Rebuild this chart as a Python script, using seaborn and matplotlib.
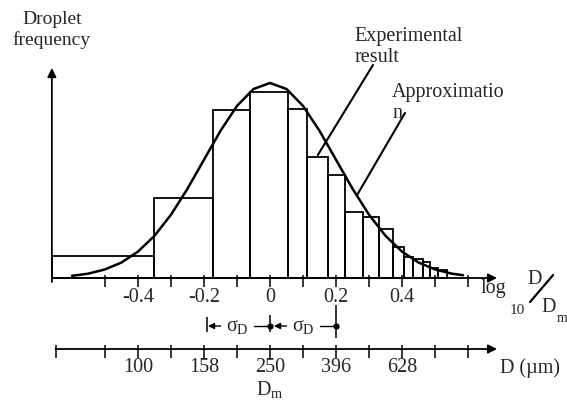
import numpy as np
import pandas as pd
import matplotlib
matplotlib.use("Agg")
import matplotlib.pyplot as plt
import seaborn as sns

# ---------------- data ----------------
# histogram bin edges in log10(D/Dm) and bar heights (frequency, arbitrary units)
bin_edges = [-0.661, -0.352, -0.173, -0.061, 0.055, 0.112, 0.176, 0.227,
             0.282, 0.330, 0.373, 0.406, 0.433, 0.464, 0.485, 0.509, 0.536]
bar_heights = [0.22, 0.80, 1.68, 1.86, 1.69, 1.21, 1.03, 0.66,
               0.61, 0.49, 0.31, 0.21, 0.19, 0.16, 0.10, 0.08]

# approximation curve
curve_x = [-0.60, -0.55, -0.50, -0.45, -0.40, -0.35, -0.30, -0.25, -0.20,
           -0.15, -0.10, -0.05, 0.00, 0.05, 0.10, 0.15, 0.20, 0.25, 0.30,
           0.35, 0.40, 0.45, 0.50, 0.55, 0.585]
curve_y = [0.022, 0.044, 0.086, 0.155, 0.264, 0.422, 0.633, 0.893, 1.183,
           1.472, 1.721, 1.890, 1.950, 1.890, 1.721, 1.472, 1.183, 0.893,
           0.633, 0.422, 0.264, 0.155, 0.086, 0.044, 0.028]

# upper axis (log10 D/Dm)
log_minor_ticks = [-0.5, -0.4, -0.3, -0.2, -0.1, 0.0, 0.1, 0.2, 0.3, 0.4, 0.5, 0.6]
log_tick_labels = ["-0.4", "-0.2", "0", "0.2", "0.4"]
log_tick_values = [-0.4, -0.2, 0.0, 0.2, 0.4]

# lower axis (D in micrometres)
d_median = 250
d_tick_labels = [100, 158, 250, 396, 628]
sigma_log = 0.2

# ---------------- style ----------------
sns.set_style("white")
plt.rcParams["font.family"] = ["Liberation Serif", "DejaVu Serif"]
plt.rcParams["mathtext.fontset"] = "custom"
plt.rcParams["mathtext.rm"] = "Liberation Serif"
plt.rcParams["mathtext.it"] = "Liberation Serif"
plt.rcParams["mathtext.bf"] = "Liberation Serif:bold"

FS = 14.5
K = "black"

fig = plt.figure(figsize=(5.67, 4.05), dpi=100)
ax = fig.add_axes([0, 0, 1, 1])

# bars
centers = [(a + b) / 2 for a, b in zip(bin_edges[:-1], bin_edges[1:])]
df = pd.DataFrame({"x": centers, "w": bar_heights})
sns.histplot(data=df, x="x", weights="w", bins=bin_edges, fill=False,
             color=K, linewidth=1.3, ax=ax, legend=False)

# approximation curve
sns.lineplot(x=curve_x, y=curve_y, color=K, linewidth=1.8, ax=ax,
             legend=False, sort=True)

x0 = bin_edges[0]
x_end = 0.688

# upper axis with arrow
ax.annotate("", xy=(x_end, 0), xytext=(x0, 0),
            arrowprops=dict(arrowstyle="-|>", color=K, lw=1.3,
                            mutation_scale=13, shrinkA=0, shrinkB=0))
ax.vlines(log_minor_ticks, -0.09, 0.03, color=K, lw=1.1)
for v, s in zip(log_tick_values, log_tick_labels):
    ax.text(v, -0.19, s, ha="center", va="center", fontsize=FS)

# y axis with arrow
ax.annotate("", xy=(x0, 2.10), xytext=(x0, -0.04),
            arrowprops=dict(arrowstyle="-|>", color=K, lw=1.3,
                            mutation_scale=13, shrinkA=0, shrinkB=0))
ax.text(x0 + 0.0, 2.58, "Droplet", ha="center", va="center", fontsize=14)
ax.text(x0 + 0.0, 2.38, "frequency", ha="center", va="center", fontsize=14)

# axis label log10 D/Dm
ax.text(0.638, -0.11, "log", ha="left", va="center", fontsize=FS)
ax.text(0.727, -0.32, "10", ha="left", va="center", fontsize=11)
ax.text(0.780, -0.01, "D", ha="left", va="center", fontsize=FS)
ax.plot([0.788, 0.858], [-0.24, 0.03], color=K, lw=1.6)
ax.text(0.824, -0.29, "D", ha="left", va="center", fontsize=FS)
ax.text(0.870, -0.40, "m", ha="left", va="center", fontsize=10)

# lower D axis
yl = -0.71
ax.annotate("", xy=(x_end, yl), xytext=(-0.65, yl),
            arrowprops=dict(arrowstyle="-|>", color=K, lw=1.3,
                            mutation_scale=13, shrinkA=0, shrinkB=0))
ax.vlines([-0.65] + log_minor_ticks, yl - 0.09, yl + 0.04, color=K, lw=1.1)
for d in d_tick_labels:
    ax.text(np.log10(d / d_median), yl - 0.19, str(d), ha="center",
            va="center", fontsize=FS)
ax.text(0.0, yl - 0.40, r"D$_{\mathrm{m}}$", ha="center", va="center", fontsize=FS)
ax.text(0.697, yl - 0.19, "D (\u00b5m)", ha="left", va="center", fontsize=FS)

# sigma annotations
ys = -0.48
ax.vlines(-sigma_log + 0.01, ys - 0.06, ys + 0.09, color=K, lw=1.1)
for left in (-sigma_log, 0.0):
    right = left + sigma_log
    ax.annotate("", xy=(left + 0.012, ys), xytext=(left + 0.05, ys),
                arrowprops=dict(arrowstyle="-|>", color=K, lw=1.0,
                                mutation_scale=9, shrinkA=0, shrinkB=0))
    ax.text(left + 0.10, ys, r"$\sigma_{\mathrm{D}}$", ha="center",
            va="center", fontsize=FS)
    ax.plot([left + 0.15, right], [ys, ys], color=K, lw=1.0)
    ax.plot([right], [ys], marker="o", ms=3.5, color=K)
ax.vlines(0.0, ys - 0.06, ys + 0.11, color=K, lw=1.1)
ax.vlines(sigma_log, ys - 0.12, ys + 0.21, color=K, lw=1.1)

# annotations
ax.text(0.255, 2.41, "Experimental", ha="left", va="center", fontsize=FS)
ax.text(0.255, 2.20, "result", ha="left", va="center", fontsize=FS)
ax.plot([0.312, 0.145], [2.13, 1.23], color=K, lw=1.5)
ax.text(0.37, 1.86, "Approximatio", ha="left", va="center", fontsize=FS)
ax.text(0.37, 1.65, "n", ha="left", va="center", fontsize=FS)
ax.plot([0.409, 0.264], [1.65, 0.83], color=K, lw=1.5)

ax.set_xlim(-270 / 330, 297 / 330)
ax.set_ylim(-1.27, 2.78)
ax.axis("off")

fig.savefig("out.png", dpi=100)
